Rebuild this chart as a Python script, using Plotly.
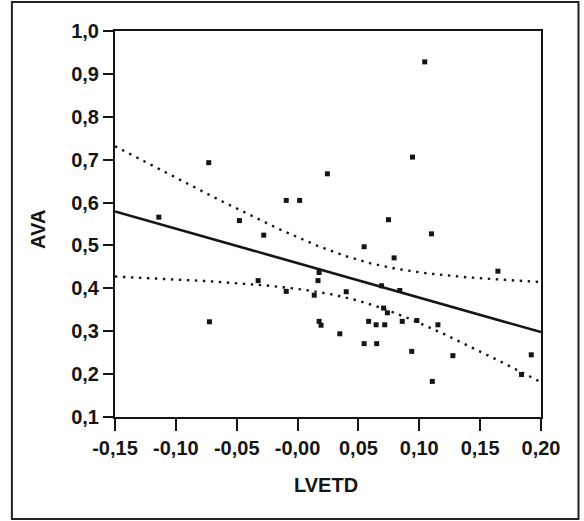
import numpy as np
import plotly.graph_objects as go

# LVETD (x) and AVA (y) for each subject
lvetd = [0.1045, -0.073, 0.0245, 0.0944, -0.0093, 0.0017, -0.114, -0.0478,
         0.0747, -0.0278, 0.110, 0.0547, 0.0793, 0.1646, 0.0177, 0.0168,
         -0.0324, 0.069, -0.0093, 0.040, 0.084, 0.0137, 0.0707, 0.0738,
         -0.0724, 0.0177, 0.0193, 0.0584, 0.0645, 0.0716, 0.086, 0.098,
         0.1153, 0.0347, 0.0547, 0.065, 0.0938, 0.1276, 0.192, 0.184,
         0.1107]
ava = [0.928, 0.693, 0.667, 0.706, 0.605, 0.605, 0.566, 0.558,
       0.560, 0.524, 0.527, 0.497, 0.471, 0.440, 0.437, 0.418,
       0.418, 0.406, 0.393, 0.392, 0.395, 0.384, 0.354, 0.343,
       0.322, 0.323, 0.314, 0.323, 0.315, 0.315, 0.323, 0.325,
       0.315, 0.294, 0.271, 0.271, 0.253, 0.243, 0.245, 0.199,
       0.183]

x_ticks = [-0.15, -0.10, -0.05, 0.0, 0.05, 0.10, 0.15, 0.20]
x_tick_labels = ["-0,15", "-0,10", "-0,05", "-0,00", "0,05", "0,10", "0,15", "0,20"]
y_ticks = [0.1, 0.2, 0.3, 0.4, 0.5, 0.6, 0.7, 0.8, 0.9, 1.0]
y_tick_labels = ["0,1", "0,2", "0,3", "0,4", "0,5", "0,6", "0,7", "0,8", "0,9", "1,0"]

# least-squares line with 95% confidence band for the mean
x = np.array(lvetd)
y = np.array(ava)
n = len(x)
slope, intercept = np.polyfit(x, y, 1)
resid = y - (intercept + slope * x)
s = np.sqrt(np.sum(resid ** 2) / (n - 2))
sxx = np.sum((x - x.mean()) ** 2)
t_crit = 2.023  # t(0.975, n-2)

xg = np.linspace(x_ticks[0], x_ticks[-1], 200)
yg = intercept + slope * xg
half = t_crit * s * np.sqrt(1.0 / n + (xg - x.mean()) ** 2 / sxx)

ink = "#151515"
font_family = "Liberation Sans, Arial, sans-serif"

fig = go.Figure()
fig.add_trace(go.Scatter(x=xg, y=yg + half, mode="lines",
                         line=dict(color=ink, width=2.4, dash="2.4px,5.6px")))
fig.add_trace(go.Scatter(x=xg, y=yg - half, mode="lines",
                         line=dict(color=ink, width=2.4, dash="2.4px,5.6px")))
fig.add_trace(go.Scatter(x=xg, y=yg, mode="lines",
                         line=dict(color=ink, width=2.6)))
fig.add_trace(go.Scatter(x=lvetd, y=ava, mode="markers",
                         marker=dict(symbol="square", size=5, color=ink,
                                     line=dict(width=0))))

axis_common = dict(
    showgrid=False, zeroline=False, showline=True, linecolor=ink,
    linewidth=2, mirror=True, ticks="outside", tickcolor=ink, tickwidth=2,
    tickfont=dict(family=font_family, size=20, color=ink, weight="bold"),
)

fig.update_layout(
    width=584, height=521,
    margin=dict(l=115, r=43, t=31, b=104),
    paper_bgcolor="white", plot_bgcolor="white",
    showlegend=False,
    xaxis=dict(range=[x_ticks[0], x_ticks[-1]], tickvals=x_ticks,
               ticktext=x_tick_labels, ticklen=12, **axis_common),
    yaxis=dict(range=[y_ticks[0], y_ticks[-1]], tickvals=y_ticks,
               ticktext=y_tick_labels, ticklen=10, **axis_common),
    annotations=[
        dict(text="LVETD", xref="paper", yref="paper", x=0.495, y=-0.176,
             xanchor="center", yanchor="middle", showarrow=False,
             font=dict(family=font_family, size=20, color=ink, weight="bold")),
        dict(text="AVA", xref="paper", yref="paper", x=-0.181, y=0.487,
             xanchor="center", yanchor="middle", textangle=-90, showarrow=False,
             font=dict(family=font_family, size=20, color=ink, weight="bold")),
    ],
    shapes=[
        dict(type="rect", xref="paper", yref="paper",
             x0=-0.242, x1=1.088, y0=-0.264, y1=1.075,
             line=dict(color="#222222", width=2)),
    ],
)

fig.write_html("out.html")
